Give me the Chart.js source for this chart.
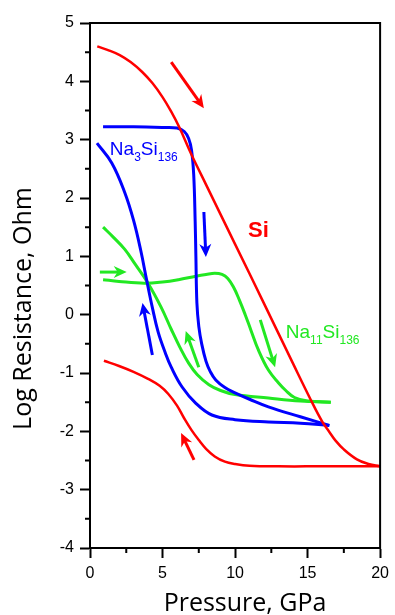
<!DOCTYPE html>
<html>
<head>
<meta charset="utf-8">
<script src="https://cdn.jsdelivr.net/npm/chart.js@4.4.1/dist/chart.umd.min.js"></script>
<style>
html, body { margin: 0; padding: 0; background: #fff; }
</style>
</head>
<body>
<canvas id="c" width="395" height="615"></canvas>
<script>
// Si (red) - compression and decompression
const siUpX = [0.5, 1.2, 2.05, 2.8, 3.6, 4.3, 5.0, 5.6, 6.14, 7.0, 8.0, 10.0, 12.0, 14.0, 15.2, 16.0, 16.5, 16.9, 17.5, 18.4, 19.2, 20.0];
const siUpY = [4.6, 4.54, 4.45, 4.33, 4.16, 3.97, 3.73, 3.48, 3.22, 2.74, 2.23, 1.21, 0.19, -0.84, -1.45, -1.83, -2.01, -2.15, -2.31, -2.48, -2.56, -2.6];
const siDownX = [0.96, 2.0, 3.0, 4.0, 4.8, 5.4, 6.0, 6.5, 7.0, 7.5, 8.0, 8.6, 9.3, 10.0, 11.0, 13.0, 16.0, 20.0];
const siDownY = [-0.79, -0.88, -0.98, -1.1, -1.22, -1.36, -1.56, -1.78, -1.98, -2.15, -2.3, -2.43, -2.52, -2.56, -2.59, -2.6, -2.6, -2.6];

// Na3Si136 (blue)
const na3UpX = [0.9, 3.0, 5.0, 6.0, 6.5, 6.8, 7.0, 7.15, 7.25, 7.3, 7.37, 7.5, 7.7, 8.0, 8.3, 8.67, 9.3, 10.0, 11.0, 12.3, 14.5, 16.5];
const na3UpY = [3.22, 3.22, 3.21, 3.2, 3.14, 3.02, 2.82, 2.4, 1.6, 1.0, 0.2, -0.2, -0.5, -0.8, -0.98, -1.12, -1.25, -1.34, -1.45, -1.58, -1.75, -1.9];
const na3DownX = [0.48, 1.5, 2.4, 3.0, 3.5, 3.9, 4.3, 4.7, 5.2, 5.6, 6.35, 7.3, 8.4, 10.0, 12.3, 14.5, 16.5];
const na3DownY = [2.94, 2.6, 2.09, 1.62, 1.1, 0.6, 0.12, -0.3, -0.66, -0.9, -1.24, -1.52, -1.72, -1.8, -1.84, -1.86, -1.9];

// Na11Si136 (green)
const na11UpX = [0.9, 2.0, 3.75, 5.0, 6.1, 7.3, 8.0, 8.6, 9.1, 9.5, 9.9, 10.3, 10.7, 11.1, 11.6, 12.3, 13.0, 13.5, 14.1, 15.0, 16.6];
const na11UpY = [0.6, 0.57, 0.54, 0.56, 0.6, 0.66, 0.69, 0.71, 0.69, 0.62, 0.47, 0.25, 0.0, -0.27, -0.6, -0.95, -1.17, -1.3, -1.42, -1.48, -1.5];
const na11DownX = [0.9, 1.6, 2.4, 3.1, 4.0, 4.9, 5.6, 6.2, 6.8, 7.4, 8.2, 9.0, 10.0, 12.3, 14.5, 16.6];
const na11DownY = [1.5, 1.33, 1.12, 0.87, 0.54, 0.13, -0.25, -0.56, -0.83, -1.03, -1.2, -1.3, -1.37, -1.43, -1.48, -1.5];

// direction arrows, in data units
const arrowFromX = [5.6, 7.17, 7.85, 4.3, 0.68, 7.5, 11.74];
const arrowFromY = [4.33, -2.49, 1.76, -0.69, 0.73, -0.9, -0.09];
const arrowToX = [7.85, 6.28, 7.99, 3.62, 2.53, 6.6, 12.76];
const arrowToY = [3.54, -2.03, 0.99, 0.2, 0.73, -0.28, -0.9];
const arrowColor = ['#ff0000', '#ff0000', '#0000ff', '#0000ff', '#22e822', '#22e822', '#22e822'];

const X_TICKS = [0, 5, 10, 15, 20];
const Y_TICKS = [-4, -3, -2, -1, 0, 1, 2, 3, 4, 5];

const RED = '#ff0000';
const BLUE = '#0000ff';
const GREEN = '#22e822';

function pts(xs, ys){
    return xs.map((x, i) => ({x: x, y: ys[i]}));
}

function line(xs, ys, color, width){
    return {
        data: pts(xs, ys),
        borderColor: color,
        borderWidth: width,
        pointRadius: 0,
        fill: false,
        tension: 0.4
    };
}

// labels: text pieces [text, isSubscript]
const curveLabels = [
    {x: 1.37, y: 2.74, color: BLUE, bold: false, parts: [['Na', 0], ['3', 1], ['Si', 0], ['136', 1]]},
    {x: 13.5, y: -0.4, color: GREEN, bold: false, parts: [['Na', 0], ['11', 1], ['Si', 0], ['136', 1]]},
    {x: 10.9, y: 1.33, color: RED, bold: true, parts: [['Si', 0]]}
];

const framePlugin = {
    id: 'frame',
    afterDraw(chart){
        const {ctx, chartArea: a, scales: {x, y}} = chart;
        ctx.save();
        ctx.strokeStyle = '#000';
        ctx.lineWidth = 2;
        ctx.strokeRect(a.left, a.top, a.right - a.left, a.bottom - a.top);
        // minor ticks
        ctx.beginPath();
        for(let i = 0; i < X_TICKS.length - 1; i++){
            const px = x.getPixelForValue((X_TICKS[i] + X_TICKS[i + 1]) / 2);
            ctx.moveTo(px, a.bottom);
            ctx.lineTo(px, a.bottom + 5);
        }
        for(let i = 0; i < Y_TICKS.length - 1; i++){
            const py = y.getPixelForValue((Y_TICKS[i] + Y_TICKS[i + 1]) / 2);
            ctx.moveTo(a.left, py);
            ctx.lineTo(a.left - 5, py);
        }
        ctx.stroke();

        // axis titles
        ctx.fillStyle = '#000';
        ctx.font = '25px "Open Sans"';
        ctx.textAlign = 'center';
        ctx.textBaseline = 'alphabetic';
        ctx.fillText('Pressure, GPa', (a.left + a.right) / 2 + 10, 611);
        ctx.translate(31, (a.top + a.bottom) / 2 + 23);
        ctx.rotate(-Math.PI / 2);
        ctx.fillText('Log Resistance, Ohm', 0, 0);
        ctx.restore();
    }
};

const arrowPlugin = {
    id: 'arrows',
    afterDatasetsDraw(chart){
        const {ctx, scales: {x, y}} = chart;
        ctx.save();
        for(let i = 0; i < arrowFromX.length; i++){
            const x0 = x.getPixelForValue(arrowFromX[i]);
            const y0 = y.getPixelForValue(arrowFromY[i]);
            const x1 = x.getPixelForValue(arrowToX[i]);
            const y1 = y.getPixelForValue(arrowToY[i]);
            const ang = Math.atan2(y1 - y0, x1 - x0);
            const L = 13, W = 6;
            ctx.strokeStyle = arrowColor[i];
            ctx.fillStyle = arrowColor[i];
            ctx.lineWidth = 3;
            ctx.beginPath();
            ctx.moveTo(x0, y0);
            ctx.lineTo(x1 - Math.cos(ang) * L * 0.6, y1 - Math.sin(ang) * L * 0.6);
            ctx.stroke();
            ctx.translate(x1, y1);
            ctx.rotate(ang);
            ctx.beginPath();
            ctx.moveTo(0, 0);
            ctx.lineTo(-L, -W);
            ctx.lineTo(-L * 0.7, 0);
            ctx.lineTo(-L, W);
            ctx.closePath();
            ctx.fill();
            ctx.setTransform(1, 0, 0, 1, 0, 0);
        }
        ctx.restore();
    }
};

const labelPlugin = {
    id: 'curveLabels',
    afterDatasetsDraw(chart){
        const {ctx, scales: {x, y}} = chart;
        ctx.save();
        ctx.textBaseline = 'alphabetic';
        ctx.textAlign = 'left';
        for(const lab of curveLabels){
            let px = x.getPixelForValue(lab.x);
            const py = y.getPixelForValue(lab.y);
            ctx.fillStyle = lab.color;
            for(const [t, sub] of lab.parts){
                ctx.font = (lab.bold ? 'bold 22px' : (sub ? '12px' : '19px')) + ' Arial, "Liberation Sans"';
                ctx.fillText(t, px, sub ? py + 6 : py);
                px += ctx.measureText(t).width;
            }
        }
        ctx.restore();
    }
};

const ctx = document.getElementById('c').getContext('2d');
new Chart(ctx, {
    type: 'line',
    data: {
        datasets: [
            line(siUpX, siUpY, RED, 2.5),
            line(siDownX, siDownY, RED, 2.5),
            line(na3UpX, na3UpY, BLUE, 3),
            line(na3DownX, na3DownY, BLUE, 3),
            line(na11UpX, na11UpY, GREEN, 3),
            line(na11DownX, na11DownY, GREEN, 3)
        ]
    },
    options: {
        responsive: false,
        devicePixelRatio: 1,
        animation: false,
        layout: { padding: { top: 23, right: 12, left: 0, bottom: 0 } },
        plugins: {
            legend: { display: false },
            tooltip: { enabled: false }
        },
        scales: {
            x: {
                type: 'linear',
                min: 0,
                max: 20,
                afterFit: s => { s.height = 67; },
                afterBuildTicks: s => { s.ticks = X_TICKS.map(v => ({value: v})); },
                ticks: { color: '#000', font: { family: 'Arial, "Liberation Sans"', size: 16 }, padding: 6, maxRotation: 0 },
                grid: { drawOnChartArea: false, tickLength: 10, tickWidth: 2, tickColor: '#000' },
                border: { color: '#000', width: 2 }
            },
            y: {
                type: 'linear',
                min: -4,
                max: 5,
                afterFit: s => { s.width = 90; },
                afterBuildTicks: s => { s.ticks = Y_TICKS.map(v => ({value: v})); },
                ticks: { color: '#000', font: { family: 'Arial, "Liberation Sans"', size: 16 }, padding: 6 },
                grid: { drawOnChartArea: false, tickLength: 10, tickWidth: 2, tickColor: '#000' },
                border: { color: '#000', width: 2 }
            }
        }
    },
    plugins: [framePlugin, arrowPlugin, labelPlugin]
});
</script>
</body>
</html>
